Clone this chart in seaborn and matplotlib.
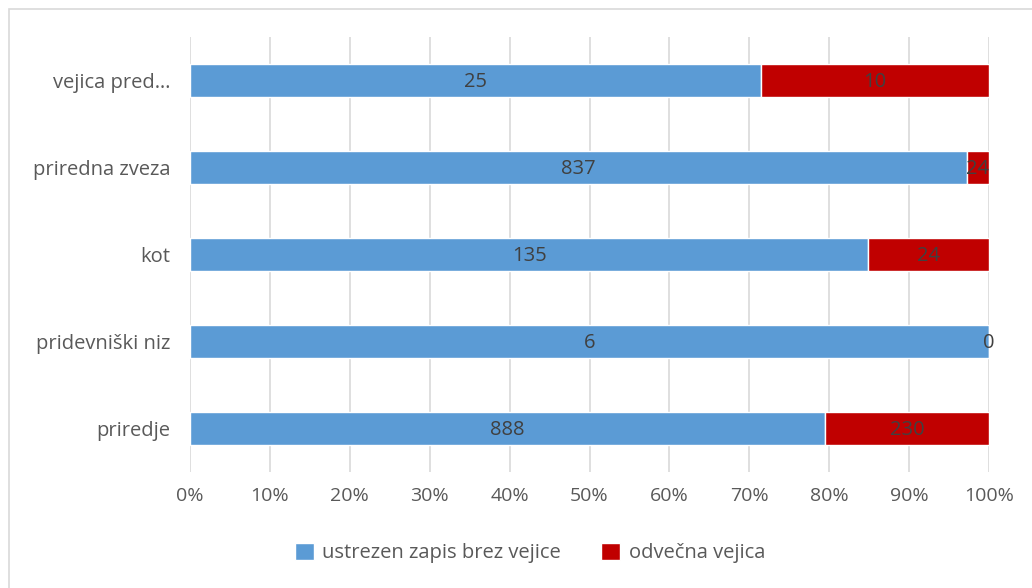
import matplotlib
matplotlib.use("Agg")
import matplotlib.pyplot as plt
from matplotlib.patches import Rectangle, Patch
import seaborn as sns
import pandas as pd

categories = ["vejica pred…", "priredna zveza", "kot", "pridevniški niz", "priredje"]
ustrezen = [25, 837, 135, 6, 888]
odvecna = [10, 24, 24, 0, 230]
xtick_labels = ["0%", "10%", "20%", "30%", "40%", "50%", "60%", "70%", "80%", "90%", "100%"]

blue = "#5B9BD5"
red = "#C00000"
label_col = "#404040"
tick_col = "#595959"

sns.set_theme(style="white")
plt.rcParams["font.family"] = ["Open Sans", "DejaVu Sans"]

df = pd.DataFrame({"kategorija": categories, "ustrezen": ustrezen, "odvecna": odvecna})
df["skupaj"] = df["ustrezen"] + df["odvecna"]
df["p_ustrezen"] = df["ustrezen"] / df["skupaj"] * 100
df["p_odvecna"] = df["odvecna"] / df["skupaj"] * 100

fig = plt.figure(figsize=(10.32, 5.88), dpi=100)
ax = fig.add_axes([190 / 1032, (588 - 472) / 588, 799 / 1032, 435 / 588])

# chart frame
fig.patches.append(Rectangle((9 / 1032, -0.1), 1.2, (588 - 9) / 588 + 0.1,
                             transform=fig.transFigure, fill=False,
                             edgecolor="#D9D9D9", linewidth=1.2, zorder=0))

sns.barplot(data=df, y="kategorija", x="p_ustrezen", color=blue, orient="h",
            width=0.39, ax=ax, saturation=1, zorder=3)
ypos = range(len(categories))
ax.barh(list(ypos), df["p_odvecna"], left=df["p_ustrezen"], height=0.39,
        color=red, zorder=3)

fs = 14.5
for i, row in df.iterrows():
    ax.text(row["p_ustrezen"] / 2, i + 0.02, f"{row['ustrezen']}", ha="center", va="center",
            fontsize=fs, color=label_col, zorder=5)
    ax.text(row["p_ustrezen"] + row["p_odvecna"] / 2, i + 0.02, f"{row['odvecna']}",
            ha="center", va="center", fontsize=fs, color=label_col, zorder=5)

ax.set_xlim(0, 100)
ax.set_ylim(4.5, -0.5)
ax.set_xticks(range(0, 101, 10))
ax.set_xticklabels(xtick_labels)
ax.xaxis.grid(True, color="#D9D9D9", linewidth=1.2, zorder=0)
ax.set_axisbelow(True)
for s in ax.spines.values():
    s.set_visible(False)
ax.tick_params(axis="x", length=0, pad=11, labelsize=14, labelcolor=tick_col)
ax.tick_params(axis="y", length=0, pad=14, labelsize=14.5, labelcolor=tick_col)
ax.set_xlabel("")
ax.set_ylabel("")

handles = [Patch(facecolor=blue, label="ustrezen zapis brez vejice"),
           Patch(facecolor=red, label="odvečna vejica")]
fig.legend(handles=handles, loc="center", bbox_to_anchor=(530 / 1032, 1 - 553 / 588),
           ncol=2, frameon=False, fontsize=14.5, handlelength=0.95, handleheight=0.95,
           handletextpad=0.4, columnspacing=2.0, labelcolor=tick_col)

fig.savefig("out.png", dpi=100)
